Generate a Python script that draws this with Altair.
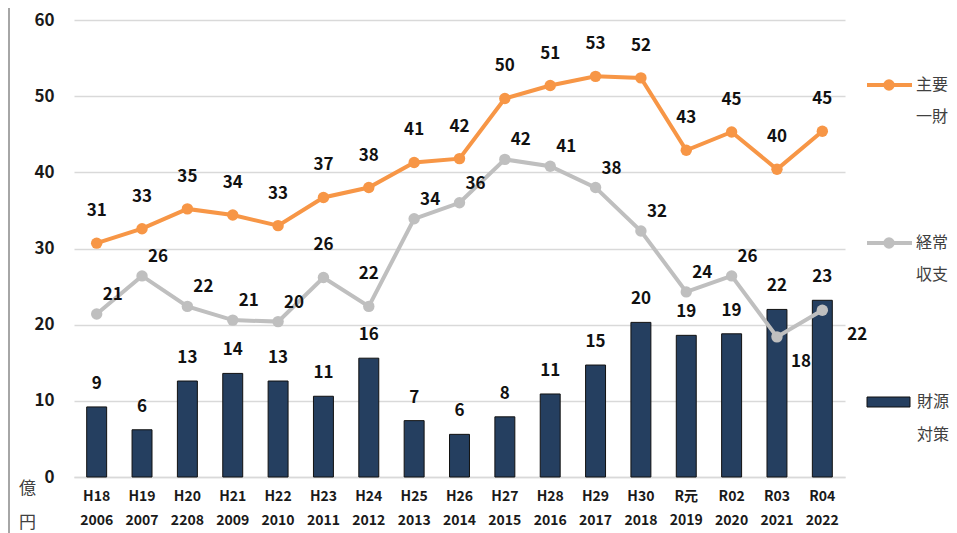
import altair as alt
import pandas as pd

# ---- data ----
cats = ["H18", "H19", "H20", "H21", "H22", "H23", "H24", "H25", "H26",
        "H27", "H28", "H29", "H30", "R元", "R02", "R03", "R04"]
years = ["2006", "2007", "2208", "2009", "2010", "2011", "2012", "2013", "2014",
         "2015", "2016", "2017", "2018", "2019", "2020", "2021", "2022"]
major = [30.7, 32.6, 35.2, 34.4, 33.0, 36.7, 38.0, 41.3, 41.8,
         49.7, 51.4, 52.6, 52.4, 42.9, 45.3, 40.4, 45.4]          # 主要一財
ordinary = [21.4, 26.4, 22.4, 20.6, 20.4, 26.2, 22.4, 33.9, 36.0,
            41.7, 40.8, 38.0, 32.3, 24.3, 26.4, 18.4, 21.9]       # 経常収支
fiscal = [9.2, 6.2, 12.6, 13.6, 12.6, 10.6, 15.6, 7.4, 5.6,
          7.9, 10.9, 14.7, 20.3, 18.6, 18.8, 22.0, 23.2]          # 財源対策

df = pd.DataFrame({
    "cat": cats,
    "label": [c + "|" + y for c, y in zip(cats, years)],
    "major": major,
    "ordinary": ordinary,
    "fiscal": fiscal,
})

FONT = "Noto Sans CJK JP"
ORANGE = "#F79646"
GRAY = "#BFBFBF"
NAVY = "#253F60"
TXT = "#404040"

W, H = 771, 457

xenc = alt.X("label:N", sort=None, title=None,
             scale=alt.Scale(paddingInner=0.56, paddingOuter=0.28),
             axis=alt.Axis(labelExpr="split(datum.label, '|')", labelAngle=0,
                           labelFont=FONT, labelFontWeight="bold", labelFontSize=14,
                           labelColor="#1a1a1a", labelLineHeight=24, labelPadding=12,
                           ticks=False, domain=True, domainColor="#D9D9D9",
                           domainWidth=1.5))
yscale = alt.Scale(domain=[0, 60], nice=False)

base = alt.Chart(df).encode(x=xenc)

bars = base.mark_bar(color=NAVY, stroke="#111111", strokeWidth=1).encode(
    y=alt.Y("fiscal:Q", scale=yscale,
            axis=alt.Axis(values=[0, 10, 20, 30, 40, 50, 60], grid=True,
                          gridColor="#D9D9D9", gridWidth=1.5, domain=False,
                          ticks=False, labelFont=FONT, labelFontWeight="bold",
                          labelFontSize=17, labelColor="#1a1a1a", labelPadding=20,
                          title=["億", "円"], titleAngle=0, titleX=-47, titleY=468,
                          titleAlign="center", titleBaseline="middle",
                          titleLineHeight=34, titleFont=FONT, titleFontSize=17,
                          titleFontWeight="normal", titleColor=TXT))
)
bar_text = base.mark_text(font=FONT, fontWeight="bold", fontSize=17, color="#111111",
                          baseline="middle", dy=-23).encode(
    y=alt.Y("fiscal:Q", scale=yscale), text=alt.Text("fiscal:Q", format=".0f"))

gray_line = base.mark_line(color=GRAY, strokeWidth=4).encode(
    y=alt.Y("ordinary:Q", scale=yscale))
gray_pts = base.mark_point(color=GRAY, filled=True, opacity=1, size=130).encode(
    y=alt.Y("ordinary:Q", scale=yscale))

above = ["H23", "H24"]
special = ["R03", "R04"]
tstyle = dict(font=FONT, fontWeight="bold", fontSize=17, color="#111111", baseline="middle")
gy = alt.Y("ordinary:Q", scale=yscale)
gtxt = alt.Text("ordinary:Q", format=".0f")
gray_text_a = base.mark_text(dx=16, dy=-19, **tstyle).encode(y=gy, text=gtxt).transform_filter(
    alt.FieldOneOfPredicate(field="cat", oneOf=[c for c in cats if c not in above + special]))
gray_text_b = base.mark_text(dx=0, dy=-32, **tstyle).encode(y=gy, text=gtxt).transform_filter(
    alt.FieldOneOfPredicate(field="cat", oneOf=above))
gray_text_c = base.mark_text(dx=24, dy=25, **tstyle).encode(y=gy, text=gtxt).transform_filter(
    alt.FieldEqualPredicate(field="cat", equal="R03"))
gray_text_d = base.mark_text(dx=35, dy=25, **tstyle).encode(y=gy, text=gtxt).transform_filter(
    alt.FieldEqualPredicate(field="cat", equal="R04"))

orange_line = base.mark_line(color=ORANGE, strokeWidth=4).encode(
    y=alt.Y("major:Q", scale=yscale))
orange_pts = base.mark_point(color=ORANGE, filled=True, opacity=1, size=130).encode(
    y=alt.Y("major:Q", scale=yscale))
orange_text = base.mark_text(dy=-32, **tstyle).encode(
    y=alt.Y("major:Q", scale=yscale), text=alt.Text("major:Q", format=".0f"))

# ---- decorations: frame edge and custom legend ----
one = alt.Chart(pd.DataFrame({"k": [0]}))
frame = one.mark_rule(color="#A6A6A6", strokeWidth=2).encode(
    x=alt.value(-65), y=alt.value(-20), y2=alt.value(520))

lg_style = dict(font=FONT, fontSize=16, color=TXT, align="left", baseline="middle")


def legend_text(t, x, y):
    return one.mark_text(**lg_style).encode(x=alt.value(x), y=alt.value(y), text=alt.value(t))


leg = [
    one.mark_rule(color=ORANGE, strokeWidth=4).encode(x=alt.value(793), x2=alt.value(838), y=alt.value(65)),
    one.mark_point(color=ORANGE, filled=True, opacity=1, size=130).encode(x=alt.value(815), y=alt.value(65)),
    legend_text("主要", 842, 65), legend_text("一財", 842, 97),
    one.mark_rule(color=GRAY, strokeWidth=4).encode(x=alt.value(793), x2=alt.value(838), y=alt.value(223)),
    one.mark_point(color=GRAY, filled=True, opacity=1, size=130).encode(x=alt.value(815), y=alt.value(223)),
    legend_text("経常", 842, 223), legend_text("収支", 842, 255),
    one.mark_rect(color=NAVY, stroke="#111111", strokeWidth=1).encode(
        x=alt.value(793), x2=alt.value(836), y=alt.value(377), y2=alt.value(387)),
    legend_text("財源", 843, 382), legend_text("対策", 843, 415),
]

chart = alt.layer(
    bars, bar_text, gray_line, gray_pts, gray_text_a, gray_text_b, gray_text_c, gray_text_d,
    orange_line, orange_pts, orange_text, frame, *leg
).resolve_scale(y="shared").properties(
    width=W, height=H,
    autosize=alt.AutoSizeParams(type="none"),
    padding={"left": 66, "top": 12, "right": 104, "bottom": 56},
    background="white",
).configure_view(stroke=None)

chart.save("out.html", embed_options={"renderer": "svg", "actions": False})
